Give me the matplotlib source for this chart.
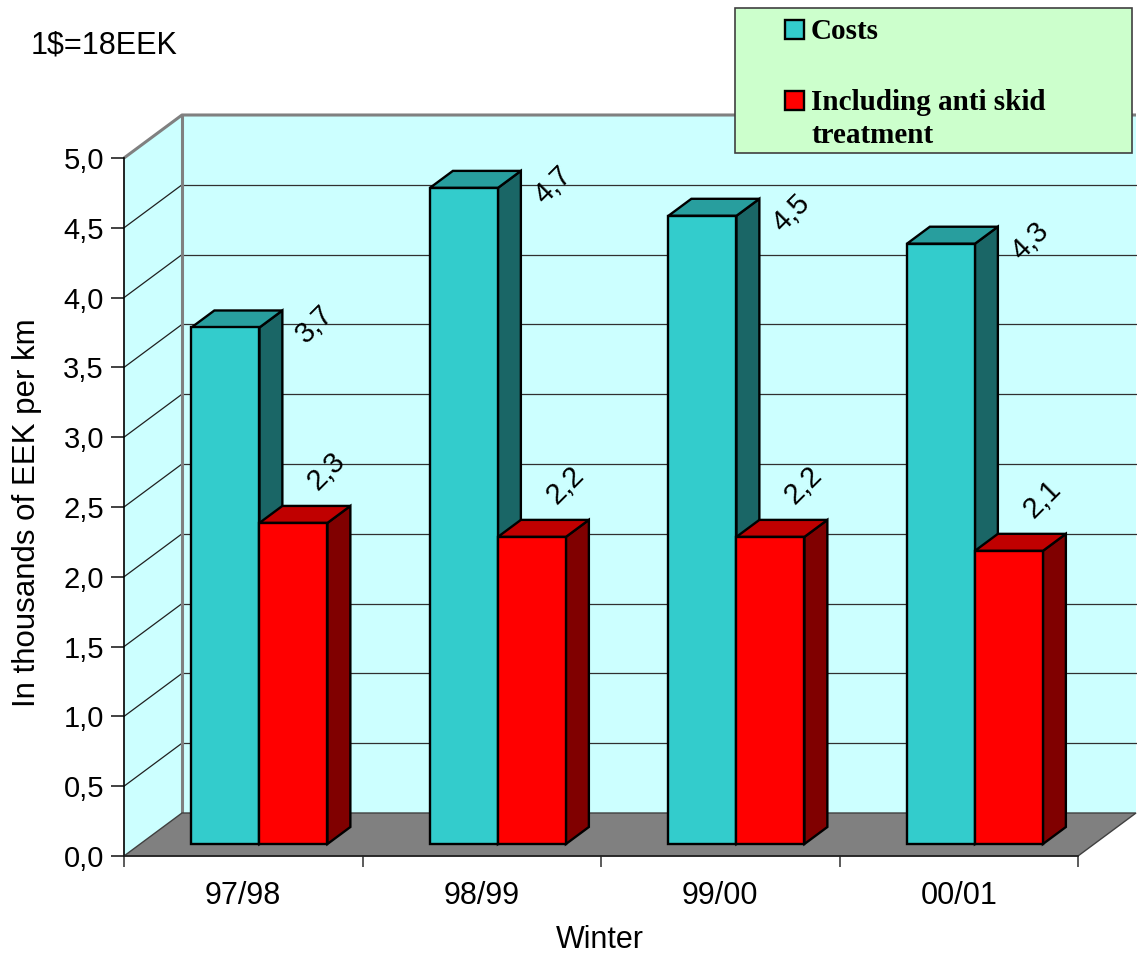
import matplotlib
matplotlib.use("Agg")
import matplotlib.pyplot as plt
from matplotlib.patches import Polygon, Rectangle
from matplotlib.ticker import FixedLocator, NullFormatter, FuncFormatter

# ---- data ----
winters = ["97/98", "98/99", "99/00", "00/01"]
costs = [3.7, 4.7, 4.5, 4.3]
anti_skid = [2.3, 2.2, 2.2, 2.1]
series_names = ["Costs", "Including anti skid treatment"]
y_ticks = [0.0, 0.5, 1.0, 1.5, 2.0, 2.5, 3.0, 3.5, 4.0, 4.5, 5.0]
note = "1$=18EEK"

plt.rcParams['font.family'] = ['Liberation Sans', 'DejaVu Sans']

W, H = 1137, 956
fig = plt.figure(figsize=(W / 100, H / 100), dpi=100)
fig.patch.set_facecolor('white')

# front plane of the plot, in pixels
x0, x1 = 124, 1078
yb, yt = 856, 158
ax = fig.add_axes([x0 / W, 1 - yb / H, (x1 - x0) / W, (yb - yt) / H])
ncat = len(winters)
ymax = y_ticks[-1]
ax.set_xlim(0, ncat)
ax.set_ylim(0, ymax)
ax.patch.set_visible(False)

px_x = ncat / (x1 - x0)
px_y = ymax / (yb - yt)
DX, DY = 58 * px_x, 43 * px_y          # depth of the 3-D box

wall_c = '#CCFFFF'
edge_gray = '#808080'

# back wall, side wall, floor
ax.add_patch(Polygon([(DX, DY), (ncat + DX, DY), (ncat + DX, ymax + DY), (DX, ymax + DY)],
                     closed=True, facecolor=wall_c, edgecolor='none', zorder=0, clip_on=False))
ax.add_patch(Polygon([(0, 0), (0, ymax), (DX, ymax + DY), (DX, DY)],
                     closed=True, facecolor=wall_c, edgecolor='none', zorder=0, clip_on=False))
ax.add_patch(Polygon([(0, 0), (ncat, 0), (ncat + DX, DY), (DX, DY)],
                     closed=True, facecolor='#808080', edgecolor='#404040', lw=1,
                     zorder=0.5, clip_on=False))

# gridlines on the walls
for v in y_ticks[1:-1]:
    ax.plot([DX, ncat + DX], [v + DY, v + DY], color='#303030', lw=0.9, zorder=0.3, clip_on=False)
    ax.plot([0, DX], [v, v + DY], color='#202020', lw=0.9, zorder=0.3, clip_on=False)
# wall border
ax.plot([0, DX, ncat + DX], [ymax, ymax + DY, ymax + DY], color=edge_gray, lw=2.2, zorder=0.4,
        clip_on=False, solid_capstyle='butt')
ax.plot([DX, DX], [DY, ymax + DY], color=edge_gray, lw=2.2, zorder=0.4, clip_on=False)

# bars
bar_w = 68 / 238.5
margin = (1 - 2 * bar_w) / 2
d0, d1 = 12 / 43, 29 / 43
styles = [
    dict(front='#33CCCC', top='#289E9E', side='#1A6666', lbl=(89, 3)),
    dict(front='#FF0000', top='#C00000', side='#800000', lbl=(33, 52)),
]
for i in range(ncat):
    for j, vals in enumerate([costs, anti_skid]):
        v = vals[i]
        st = styles[j]
        xl = i + margin + j * bar_w
        fx0, fx1 = xl + d0 * DX, xl + bar_w + d0 * DX
        bx0, bx1 = xl + d1 * DX, xl + bar_w + d1 * DX
        fy, by = d0 * DY, d1 * DY
        kw = dict(closed=True, edgecolor='black', lw=1.7, joinstyle='miter',
                  zorder=2 + i * 0.1 + j * 0.01, clip_on=False)
        ax.add_patch(Polygon([(fx1, fy), (bx1, by), (bx1, v + by), (fx1, v + fy)],
                             facecolor=st['side'], **kw))
        ax.add_patch(Polygon([(fx0, v + fy), (fx1, v + fy), (bx1, v + by), (bx0, v + by)],
                             facecolor=st['top'], **kw))
        ax.add_patch(Polygon([(fx0, fy), (fx1, fy), (fx1, v + fy), (fx0, v + fy)],
                             facecolor=st['front'], **kw))
        ax.annotate(f"{v:.1f}".replace('.', ','), xy=((fx0 + fx1) / 2, v + fy),
                    xytext=st['lbl'], textcoords='offset pixels',
                    rotation=45, rotation_mode='anchor', ha='center', va='center',
                    fontsize=21, zorder=5, annotation_clip=False)

# axes styling
for s in ['top', 'right']:
    ax.spines[s].set_visible(False)
ax.spines['left'].set_color('black')
ax.spines['left'].set_linewidth(1.2)
ax.spines['bottom'].set_color('#202020')
ax.spines['bottom'].set_linewidth(1.2)
ax.spines['left'].set_zorder(6)
ax.spines['bottom'].set_zorder(6)

ax.yaxis.set_major_locator(FixedLocator(y_ticks))
ax.yaxis.set_major_formatter(FuncFormatter(lambda v, p: f"{v:.1f}".replace('.', ',')))
ax.tick_params(axis='y', which='major', direction='out', length=9.4, width=1.2,
               labelsize=21, pad=5, color='#202020')

ax.xaxis.set_major_locator(FixedLocator(list(range(ncat + 1))))
ax.xaxis.set_major_formatter(NullFormatter())
ax.xaxis.set_minor_locator(FixedLocator([i + 0.5 for i in range(ncat)]))
ax.set_xticklabels(winters, minor=True)
ax.tick_params(axis='x', which='major', direction='out', length=8, width=1.2, color='#404040')
ax.tick_params(axis='x', which='minor', length=0, labelsize=22, pad=18)

ax.set_ylabel("In thousands of EEK per km", fontsize=22.5)
ax.yaxis.set_label_coords((27 - x0) / (x1 - x0), (yb - 513) / (yb - yt))
ax.yaxis.label.set_va('center')
ax.set_xlabel("Winter", fontsize=22)
ax.xaxis.set_label_coords((600 - x0) / (x1 - x0), (yb - 940) / (yb - yt))
ax.xaxis.label.set_va('center')

# exchange-rate note
fig.text(31 / W, 1 - 53 / H, note, fontsize=22, ha='left', va='baseline')

# legend box
def fx(px):
    return px / W

def fy_(py):
    return 1 - py / H

fig.patches.append(Rectangle((fx(735), fy_(153)), fx(1132) - fx(735), (153 - 8) / H,
                             transform=fig.transFigure, facecolor='#CCFFCC',
                             edgecolor='#404040', lw=1.2, zorder=10))
# each entry: marker colour, text lines and their baselines (pixels from top)
leg_entries = [
    (series_names[0], styles[0]['front'], [series_names[0]], [39]),
    (series_names[1], styles[1]['front'], ["Including anti skid", "treatment"], [110, 143]),
]
serif = ['Liberation Serif', 'DejaVu Serif']
for name, color, lines, baselines in leg_entries:
    fig.patches.append(Rectangle((fx(785), fy_(baselines[0])), 19 / W, 19 / H,
                                 transform=fig.transFigure, facecolor=color,
                                 edgecolor='black', lw=1.7, zorder=11))
    for line, b in zip(lines, baselines):
        fig.text(fx(811), fy_(b), line, fontsize=21, fontweight='bold', family=serif,
                 ha='left', va='baseline', zorder=12)

fig.savefig("out.png", dpi=100)
